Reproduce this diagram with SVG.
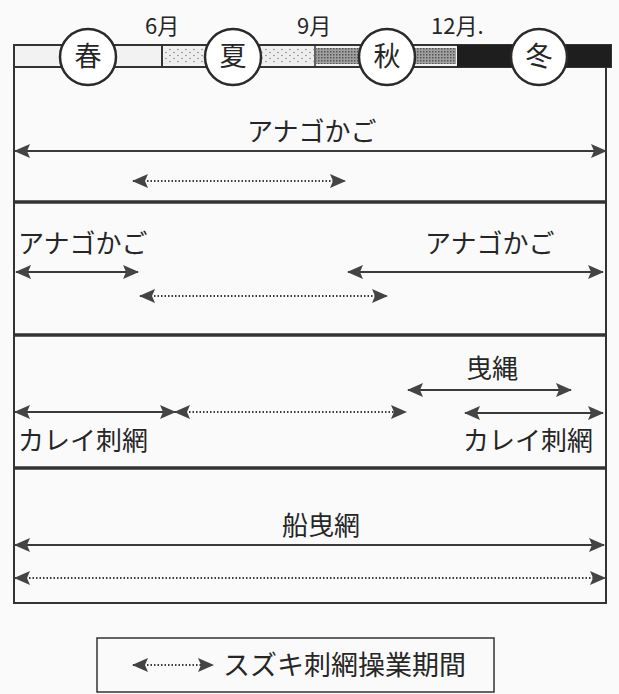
<svg xmlns="http://www.w3.org/2000/svg" width="619" height="694" viewBox="0 0 619 694">
<style>
.t{font-family:"Noto Sans CJK JP","Noto Sans CJK SC",sans-serif;fill:#262626;}
.m{font-size:22px;}
.s{font-size:26px;}
.c{font-size:27px;text-anchor:middle;}
.frame{fill:none;stroke:#333;stroke-width:2;}
.div{stroke:#333;stroke-width:3.5;}
.sol{stroke:#3a3a3a;stroke-width:2;fill:none;marker-start:url(#ah);marker-end:url(#ah);}
.dot{stroke:#3a3a3a;stroke-width:2;stroke-dasharray:1.5 2;fill:none;marker-start:url(#ah);marker-end:url(#ah);}
.circ{fill:#fff;stroke:#2a2a2a;stroke-width:2.5;}
</style>
<defs>
<marker id="ah" markerUnits="userSpaceOnUse" markerWidth="16" markerHeight="16" refX="15" refY="8" orient="auto-start-reverse">
<path d="M0,1 L16,8 L0,15 L3,8 z" fill="#444"/>
</marker>
<pattern id="ld" width="8" height="6" patternUnits="userSpaceOnUse">
<rect width="8" height="6" fill="#eeeeee"/>
<circle cx="2" cy="1.5" r="0.8" fill="#888"/>
<circle cx="6" cy="4.5" r="0.8" fill="#888"/>
</pattern>
<pattern id="st" width="3" height="3" patternUnits="userSpaceOnUse">
<rect width="3" height="3" fill="#a0a0a0"/>
<rect x="0" y="0" width="1.5" height="1.5" fill="#555"/>
</pattern>
</defs>
<rect width="619" height="694" fill="#fafafa"/>
<g id="season-bar">
<rect x="14" y="45" width="597" height="22" fill="#f2f2f2" stroke="#333" stroke-width="2"/>
<rect x="163" y="48" width="151" height="16" fill="url(#ld)"/>
<rect x="316" y="48" width="140" height="16" fill="url(#st)"/>
<rect x="457" y="45" width="154" height="22" fill="#1e1e1e"/>
<line x1="162" y1="45" x2="162" y2="67" stroke="#333" stroke-width="2"/>
<line x1="315" y1="45" x2="315" y2="67" stroke="#333" stroke-width="1.5"/>
</g>
<g id="months">
<text class="t m" x="145" y="34">6月</text>
<text class="t m" x="297" y="34">9月</text>
<text class="t m" x="431" y="34">12月.</text>
</g>
<g id="spring"><circle class="circ" cx="88" cy="57" r="28"/><text class="t c" x="88" y="66">春</text></g>
<g id="summer"><circle class="circ" cx="233" cy="57" r="28"/><text class="t c" x="233" y="66">夏</text></g>
<g id="autumn"><circle class="circ" cx="387" cy="57" r="28"/><text class="t c" x="387" y="66">秋</text></g>
<g id="winter"><circle class="circ" cx="539" cy="57" r="28"/><text class="t c" x="539" y="66">冬</text></g>
<g id="frame">
<path class="frame" d="M14,67 V603 H606 V67"/>
<line class="div" x1="14" y1="202" x2="606" y2="202"/>
<line class="div" x1="14" y1="335" x2="606" y2="335"/>
<line class="div" x1="14" y1="468" x2="606" y2="468"/>
</g>
<g id="labels">
<text class="t s" x="247" y="141">アナゴかご</text>
<text class="t s" x="18" y="253">アナゴかご</text>
<text class="t s" x="425" y="253">アナゴかご</text>
<text class="t s" x="466" y="378">曳縄</text>
<text class="t s" x="18" y="450">カレイ刺網</text>
<text class="t s" x="463" y="450">カレイ刺網</text>
<text class="t s" x="282" y="535">船曳網</text>
</g>
<g id="connectors">
<line class="sol" x1="15" y1="151" x2="606" y2="151"/>
<line class="dot" x1="133" y1="181" x2="345" y2="181"/>
<line class="sol" x1="16" y1="272" x2="138" y2="272"/>
<line class="sol" x1="348" y1="272" x2="603" y2="272"/>
<line class="dot" x1="140" y1="296" x2="387" y2="296"/>
<line class="sol" x1="408" y1="390" x2="571" y2="390"/>
<line class="sol" x1="15" y1="412" x2="175" y2="412"/>
<line class="dot" x1="175" y1="412" x2="406" y2="412"/>
<line class="sol" x1="465" y1="413" x2="603" y2="413"/>
<line class="sol" x1="15" y1="545" x2="604" y2="545"/>
<line class="dot" x1="15" y1="578" x2="605" y2="578"/>
</g>
<g id="legend">
<rect x="97" y="638" width="397" height="54" fill="none" stroke="#333" stroke-width="1.5"/>
<line class="dot" x1="133" y1="665" x2="213" y2="665"/>
<text class="t" style="font-size:27px" x="223" y="675">スズキ刺網操業期間</text>
</g>
</svg>
